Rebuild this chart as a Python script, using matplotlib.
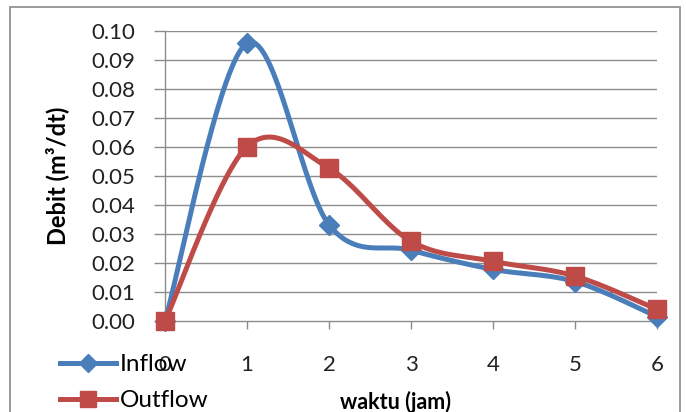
import numpy as np
import matplotlib
matplotlib.use("Agg")
import matplotlib.pyplot as plt
from matplotlib.lines import Line2D
from matplotlib.patches import Rectangle

waktu = [0, 1, 2, 3, 4, 5, 6]
inflow = [0.0, 0.0958, 0.0332, 0.0244, 0.0178, 0.0136, 0.0015]
outflow = [0.0, 0.0601, 0.0527, 0.0275, 0.0206, 0.0155, 0.0040]
yticks = [0.00, 0.01, 0.02, 0.03, 0.04, 0.05, 0.06, 0.07, 0.08, 0.09, 0.10]

BLUE = "#4A7EBB"
RED = "#BE4B48"
GRID = "#8C8C8C"


def smooth(xs, ys, n=40):
    """Excel style smoothed line: cubic bezier, control points at 1/6 of neighbours."""
    p = np.column_stack([xs, ys]).astype(float)
    p = np.vstack([p[0], p, p[-1]])
    t = np.linspace(0, 1, n)[:, None]
    out = []
    for i in range(1, len(p) - 2):
        p0, p3 = p[i], p[i + 1]
        c1 = p0 + (p[i + 1] - p[i - 1]) / 6
        c2 = p3 - (p[i + 2] - p[i]) / 6
        seg = ((1 - t) ** 3) * p0 + 3 * ((1 - t) ** 2) * t * c1 \
            + 3 * (1 - t) * t ** 2 * c2 + t ** 3 * p3
        out.append(seg)
    seg = np.vstack(out)
    return seg[:, 0], seg[:, 1]


def main():
    plt.rcParams['font.family'] = ['Lato', 'DejaVu Sans']
    fig = plt.figure(figsize=(6.86, 4.12), dpi=100)
    # plot area in pixels: x 165..657, y 31..321
    ax = fig.add_axes([165 / 686, 1 - 321 / 412, (657 - 165) / 686, (321 - 31) / 412])

    fig.patches.append(Rectangle((10 / 686, -0.05), 670 / 686, 1.05 - 7 / 412,
                                 transform=fig.transFigure, fill=False,
                                 edgecolor="#8A8A8A", linewidth=1.2))

    for y in yticks[1:]:
        ax.axhline(y, color=GRID, linewidth=1.0, zorder=1)

    sx, sy = smooth(waktu, inflow)
    ax.plot(sx, sy, color=BLUE, linewidth=3.6, zorder=3, clip_on=False)
    ax.plot(waktu, inflow, linestyle="none", marker="D", markersize=10,
            color=BLUE, zorder=4, clip_on=False)

    sx, sy = smooth(waktu, outflow)
    ax.plot(sx, sy, color=RED, linewidth=3.6, zorder=5, clip_on=False)
    ax.plot(waktu, outflow, linestyle="none", marker="s", markersize=13.5,
            color=RED, zorder=6, clip_on=False)

    ax.set_xlim(0, 6)
    ax.set_ylim(0, 0.10)
    ax.set_xticks(waktu)
    ax.set_yticks(yticks)
    ax.set_yticklabels(["%.2f" % v for v in yticks])
    for s in ["top", "right"]:
        ax.spines[s].set_visible(False)
    for s in ["left", "bottom"]:
        ax.spines[s].set_color(GRID)
        ax.spines[s].set_linewidth(1.0)
    ax.tick_params(axis="both", colors=GRID, labelcolor="#222222", labelsize=16,
                   direction="out", width=1.0)
    ax.tick_params(axis="y", length=8, pad=13.5)
    ax.tick_params(axis="x", length=6, pad=18.5)

    ax.set_ylabel("Debit (m³/dt)", fontsize=17, fontweight="bold", labelpad=16)
    ax.set_xlabel("waktu (jam)", fontsize=15.5, fontweight="bold")
    ax.xaxis.set_label_coords(0.4695, -0.24)

    handles = [
        Line2D([], [], color=BLUE, linewidth=3.6, marker="D", markersize=9),
        Line2D([], [], color=RED, linewidth=3.6, marker="s", markersize=12),
    ]
    fig.legend(handles, ["Inflow", "Outflow"], loc="upper left",
               bbox_to_anchor=(48 / 686, 1 - 342 / 412), frameon=False,
               fontsize=17.5, handlelength=2.3, handletextpad=0.15,
               labelspacing=0.62, borderpad=0)

    fig.savefig("out.png", dpi=100)


if __name__ == "__main__":
    main()
